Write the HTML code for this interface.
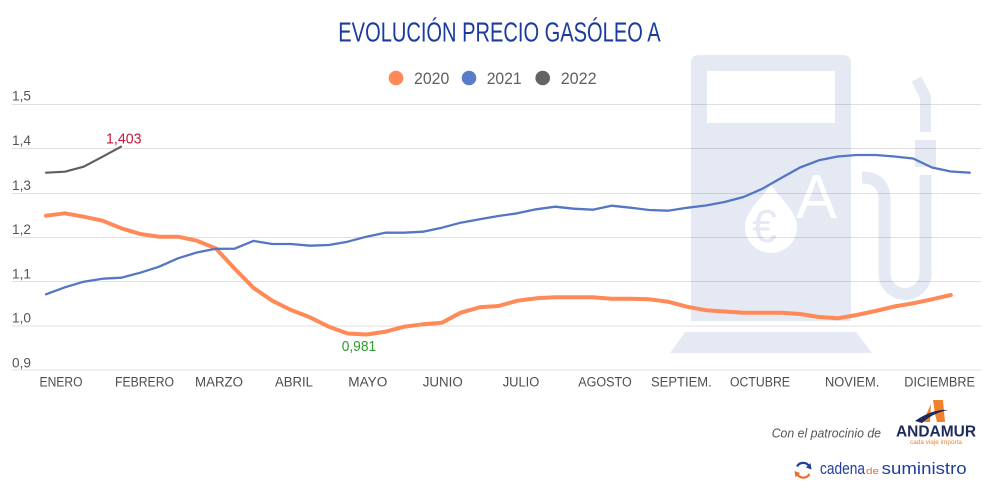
<!DOCTYPE html>
<html>
<head>
<meta charset="utf-8">
<style>
  html,body{margin:0;padding:0;background:#fff;}
  svg{display:block;}
  text{font-family:"Liberation Sans",sans-serif;}
</style>
</head>
<body>
<svg width="1000" height="500" viewBox="0 0 1000 500" xmlns="http://www.w3.org/2000/svg">
  <rect width="1000" height="500" fill="#ffffff"/>

  <!-- Watermark fuel pump -->
  <g fill="#e5e9f4">
    <path d="M699,55 H843 Q851,55 851,63 V321 H691 V63 Q691,55 699,55 Z M707,71 V123 H835 V71 Z" fill-rule="evenodd"/>
    <polygon points="685,332 856,332 872,353 670,353"/>
    <rect x="915" y="140" width="21" height="27"/>
  </g>
  <g fill="none" stroke="#e5e9f4" stroke-width="12">
    <path d="M862,177.5 Q884.5,177.5 884.5,200 L884.5,273.5 A20.5,20.5 0 0 0 925.5,273.5 L925.5,175"/>
    <path d="M916.5,79 L925.5,97 L925.5,132" stroke-width="11"/>
  </g>
  <!-- drop with euro, and A -->
  <path d="M771,184 C777,196 797,210 797,227 A26,26 0 0 1 745,227 C745,210 765,196 771,184 Z" fill="#ffffff"/>
  <text x="752" y="242" font-size="46" fill="#e5e9f4" textLength="25" lengthAdjust="spacingAndGlyphs">€</text>
  <text x="796" y="218" font-size="62" fill="#ffffff" textLength="41" lengthAdjust="spacingAndGlyphs">A</text>

  <!-- Gridlines -->
  <g stroke="#000" stroke-opacity="0.12" stroke-width="1">
    <line x1="12" y1="104.5" x2="981" y2="104.5"/>
    <line x1="12" y1="148.5" x2="981" y2="148.5"/>
    <line x1="12" y1="193.5" x2="981" y2="193.5"/>
    <line x1="12" y1="237.5" x2="981" y2="237.5"/>
    <line x1="12" y1="281.5" x2="981" y2="281.5"/>
    <line x1="12" y1="326" x2="981" y2="326"/>
    <line x1="12" y1="370" x2="981" y2="370"/>
  </g>

  <!-- Y labels -->
  <g font-size="13.5" fill="#555">
    <text x="12" y="100.7" textLength="19" lengthAdjust="spacingAndGlyphs">1,5</text>
    <text x="12" y="145" textLength="19" lengthAdjust="spacingAndGlyphs">1,4</text>
    <text x="12" y="190" textLength="19" lengthAdjust="spacingAndGlyphs">1,3</text>
    <text x="12" y="234" textLength="19" lengthAdjust="spacingAndGlyphs">1,2</text>
    <text x="12" y="278.7" textLength="19" lengthAdjust="spacingAndGlyphs">1,1</text>
    <text x="12" y="322.7" textLength="19" lengthAdjust="spacingAndGlyphs">1,0</text>
    <text x="12" y="367.3" textLength="19" lengthAdjust="spacingAndGlyphs">0,9</text>
  </g>

  <!-- X labels -->
  <g font-size="13.5" fill="#4d4d4d">
    <text x="39.5" y="386.7" textLength="43" lengthAdjust="spacingAndGlyphs">ENERO</text>
    <text x="115" y="386.7" textLength="59" lengthAdjust="spacingAndGlyphs">FEBRERO</text>
    <text x="195" y="386.7" textLength="48" lengthAdjust="spacingAndGlyphs">MARZO</text>
    <text x="275" y="386.7" textLength="38" lengthAdjust="spacingAndGlyphs">ABRIL</text>
    <text x="348.3" y="386.7" textLength="39" lengthAdjust="spacingAndGlyphs">MAYO</text>
    <text x="422.7" y="386.7" textLength="40" lengthAdjust="spacingAndGlyphs">JUNIO</text>
    <text x="502.7" y="386.7" textLength="36.6" lengthAdjust="spacingAndGlyphs">JULIO</text>
    <text x="578.3" y="386.7" textLength="53.4" lengthAdjust="spacingAndGlyphs">AGOSTO</text>
    <text x="651" y="386.7" textLength="60.7" lengthAdjust="spacingAndGlyphs">SEPTIEM.</text>
    <text x="730" y="386.7" textLength="60" lengthAdjust="spacingAndGlyphs">OCTUBRE</text>
    <text x="825" y="386.7" textLength="54.3" lengthAdjust="spacingAndGlyphs">NOVIEM.</text>
    <text x="904.3" y="386.7" textLength="70.7" lengthAdjust="spacingAndGlyphs">DICIEMBRE</text>
  </g>

  <!-- Series -->
  <polyline fill="none" stroke="#ff8a57" stroke-width="4" stroke-linejoin="round" stroke-linecap="round"
    points="46,215.7 64.9,213.3 83.7,216.7 102.6,220.7 121.4,228.3 140.3,234 159.1,236.7 178,236.7 196.8,240.7 215.7,248.3 234.5,268.5 253.4,287.8 272.2,300.7 291,310 309.9,317.3 328.8,326.7 347.6,333.5 366.5,334.5 385.3,331.7 404.2,326.7 423,324.3 441.9,322.7 460.7,312.7 479.6,307.3 498.4,306 517.3,300.7 536.1,298.3 555,297.3 573.8,297.3 592.7,297.3 611.5,298.7 630.4,298.7 649.2,299.3 668,301.7 686.9,306.7 705.8,310.2 724.6,311.5 743.5,312.7 762.3,312.7 781.2,312.7 800,314 818.9,317 837.7,318.3 856.6,315 875.4,311 894.3,306.5 913.1,303.3 932,299.3 950.8,295"/>
  <polyline fill="none" stroke="#5576c4" stroke-width="2.3" stroke-linejoin="round" stroke-linecap="round"
    points="46,294.3 64.9,287.3 83.7,281.7 102.6,278.7 121.4,277.7 140.3,272.7 159.1,266.7 178,258.3 196.8,252.5 215.7,248.8 234.5,248.7 253.4,240.9 272.2,244 291,244 309.9,245.7 328.8,245 347.6,241.7 366.5,236.7 385.3,232.7 404.2,232.7 423,231.7 441.9,227.7 460.7,222.7 479.6,219.3 498.4,216 517.3,213.3 536.1,209.3 555,206.7 573.8,208.7 592.7,209.7 611.5,205.7 630.4,207.7 649.2,210 668,210.7 686.9,207.8 705.8,205.5 724.6,202 743.5,197 762.3,188.8 781.2,178 800,167.5 818.9,160.3 837.7,156.5 856.6,155 875.4,155 894.3,156.5 913.1,158.5 932,167.5 950.8,171.5 969.7,172.7"/>
  <polyline fill="none" stroke="#5f5f5f" stroke-width="2.2" stroke-linejoin="round" stroke-linecap="round"
    points="46,172.7 64.9,171.7 83.7,166.7 102.6,156.7 121,146.7"/>

  <!-- Data labels -->
  <text x="106" y="143.3" font-size="14.5" fill="#c8163c" textLength="35.5" lengthAdjust="spacingAndGlyphs">1,403</text>
  <text x="341.7" y="351" font-size="15" fill="#2e9e2e" textLength="34.5" lengthAdjust="spacingAndGlyphs">0,981</text>

  <!-- Title -->
  <text x="338.3" y="41.7" font-size="27.5" fill="#1b3c9e" textLength="322.4" lengthAdjust="spacingAndGlyphs">EVOLUCIÓN PRECIO GASÓLEO A</text>

  <!-- Legend -->
  <circle cx="396" cy="78" r="7.3" fill="#ff8a57"/>
  <circle cx="469" cy="78" r="7.3" fill="#5a7bc6"/>
  <circle cx="542.7" cy="78" r="7.3" fill="#636363"/>
  <g font-size="16.5" fill="#5f5f5f">
    <text x="414" y="84" textLength="35.3" lengthAdjust="spacingAndGlyphs">2020</text>
    <text x="486.7" y="84" textLength="35" lengthAdjust="spacingAndGlyphs">2021</text>
    <text x="560.7" y="84" textLength="36" lengthAdjust="spacingAndGlyphs">2022</text>
  </g>

  <!-- Sponsor -->
  <text x="771.7" y="437.5" font-size="12.5" font-style="italic" fill="#555" textLength="109.3" lengthAdjust="spacingAndGlyphs">Con el patrocinio de</text>
  <!-- ANDAMUR logo -->
  <polygon points="933,400 943,400 945,422 937,422 935,414" fill="#f0822d"/>
  <polygon points="931,404 923,422 930,422" fill="#f0822d"/>
  <path d="M915,421 Q932,409 948,410 Q933,413 922,423 Z" fill="#1e2a5a"/>
  <text x="896" y="436.7" font-size="16" font-weight="bold" fill="#1e2a5a" textLength="80" lengthAdjust="spacingAndGlyphs">ANDAMUR</text>
  <text x="910" y="444" font-size="6" fill="#f0822d" textLength="52" lengthAdjust="spacingAndGlyphs">cada viaje importa</text>

  <!-- cadena de suministro -->
  <path d="M809.5,467 A7,7 0 0 0 797,466.5" fill="none" stroke="#1f3fa0" stroke-width="2.2"/>
  <polygon points="810.5,463 811.5,469.5 806,467.5" fill="#1f3fa0"/>
  <path d="M797,473.5 A7,7 0 0 0 809.5,474" fill="none" stroke="#f26b2d" stroke-width="2.2"/>
  <polygon points="795.5,477.5 794.5,471 800,473" fill="#f26b2d"/>
  <text x="820" y="474" font-size="17" fill="#1f3fa0" textLength="45" lengthAdjust="spacingAndGlyphs">cadena</text>
  <text x="866" y="474" font-size="9" fill="#f26b2d" textLength="13" lengthAdjust="spacingAndGlyphs">de</text>
  <text x="881.7" y="474" font-size="17" fill="#1f3fa0" textLength="85" lengthAdjust="spacingAndGlyphs">suministro</text>
</svg>
</body>
</html>
